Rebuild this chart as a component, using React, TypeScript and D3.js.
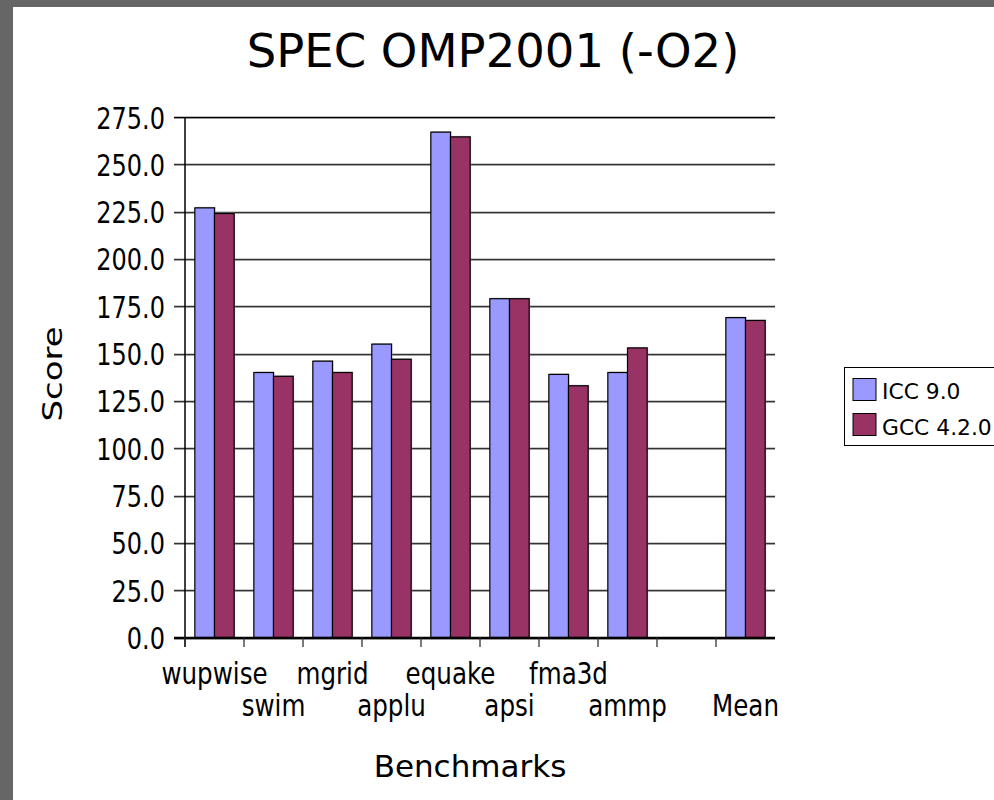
import React from "react";
import * as d3 from "d3";

const title = "SPEC OMP2001 (-O2)";
const categories = ["wupwise", "swim", "mgrid", "applu", "equake", "apsi", "fma3d", "ammp", "", "Mean"];
const seriesNames = ["ICC 9.0", "GCC 4.2.0"];
const iccValues: (number | null)[] = [227, 140, 146, 155, 267, 179, 139, 140, null, 169];
const gccValues: (number | null)[] = [224, 138, 140, 147, 264.5, 179, 133, 153, null, 167.5];
const yTicks = [0, 25, 50, 75, 100, 125, 150, 175, 200, 225, 250, 275];
const colors = ["#9999FF", "#993366"];

const W = 994;
const H = 800;
const left = 185;
const right = 775;
const top = 117;
const bottom = 637.5;

export default function App() {
  const x = d3.scaleBand<string>().domain(categories.map((c, i) => i + ":" + c)).range([left, right]).padding(0);
  const inner = d3.scaleBand<string>().domain(seriesNames).range([0, x.bandwidth()]).paddingInner(0).paddingOuter(0.5);
  const y = d3.scaleLinear().domain([0, 275]).range([bottom, top]);
  const keys = categories.map((c, i) => i + ":" + c);
  const series = [iccValues, gccValues];
  const font = "'DejaVu Sans', Verdana, sans-serif";

  return (
    <svg width={W} height={H} style={{ position: "absolute", left: 0, top: 0 }} fontFamily={font}>
      <rect x={0} y={0} width={W} height={H} fill="#666666" />
      <rect x={13} y={7} width={W - 13} height={H - 7} fill="#ffffff" />
      <text x={493} y={67} fontSize={46.5} textAnchor="middle" fill="#000">{title}</text>

      {/* gridlines */}
      {yTicks.map((t) => (
        <g key={"g" + t}>
          <line x1={174} x2={right} y1={Math.round(y(t)) + 1.5} y2={Math.round(y(t)) + 1.5} stroke="#c8c8c8" strokeWidth={1} />
          <line x1={174} x2={right} y1={Math.round(y(t)) + 0.5} y2={Math.round(y(t)) + 0.5} stroke={t === 0 || t === 275 ? "#000" : "#333"} strokeWidth={1.3} />
          <text
            transform={`translate(165,${y(t) + 11.5}) scale(0.8,1)`}
            fontSize={30}
            textAnchor="end"
            fill="#000"
          >
            {t.toFixed(1)}
          </text>
        </g>
      ))}

      {/* bars */}
      {keys.map((k, i) => (
        <g key={"b" + k}>
          {series.map((vals, s) => {
            const v = vals[i];
            if (v == null) return null;
            const bx = (x(k) as number) + (inner(seriesNames[s]) as number);
            const by = y(v);
            const bw = inner.bandwidth();
            return (
              <g key={s}>
                <rect x={bx + 1} y={by - 1} width={bw} height={bottom - by} fill="#aaaaaa" opacity={0.7} />
                <rect x={bx} y={by} width={bw} height={bottom - by} fill={colors[s]} stroke="#000" strokeWidth={1.2} />
              </g>
            );
          })}
        </g>
      ))}

      {/* axes */}
      <line x1={left} x2={left} y1={top} y2={647} stroke="#000" strokeWidth={1.5} />
      <line x1={174} x2={right} y1={bottom} y2={bottom} stroke="#000" strokeWidth={1.5} />
      {keys.map((k) => (
        <line key={"t" + k} x1={x(k) as number} x2={x(k) as number} y1={bottom} y2={647} stroke="#333" strokeWidth={1.3} />
      ))}
      {keys.map((k, i) =>
        categories[i] ? (
          <text
            key={"l" + k}
            transform={`translate(${(x(k) as number) + x.bandwidth() / 2},${i % 2 === 0 ? 684 : 716}) scale(0.82,1)`}
            fontSize={30}
            textAnchor="middle"
            fill="#000"
          >
            {categories[i]}
          </text>
        ) : null
      )}

      <text x={470} y={777} fontSize={31} textAnchor="middle" fill="#000">Benchmarks</text>
      <text transform="translate(62,374) scale(0.8,1) rotate(-90)" fontSize={34} textAnchor="middle" fill="#000">Score</text>

      {/* legend */}
      <rect x={844.5} y={367.5} width={170} height={78} fill="#fff" stroke="#000" strokeWidth={1} />
      {seriesNames.map((n, s) => (
        <g key={"lg" + n}>
          <rect x={853} y={378.5 + s * 35} width={23} height={22} fill={colors[s]} stroke="#000" strokeWidth={1} />
          <text x={882} y={398.5 + s * 36.5} fontSize={21.8} fill="#000">{n}</text>
        </g>
      ))}
    </svg>
  );
}
